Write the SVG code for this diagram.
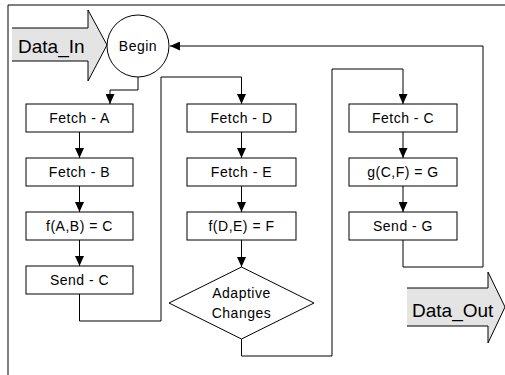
<svg xmlns="http://www.w3.org/2000/svg" width="505" height="375" viewBox="0 0 505 375">
<style>
.box{fill:#fff;stroke:#000;stroke-width:1}
.lbl{font-family:"Liberation Sans",Arial,sans-serif;font-size:14px;letter-spacing:0.5px;fill:#000;text-anchor:middle}
.big{font-family:"Liberation Sans",Arial,sans-serif;font-size:19px;fill:#000}
.conn{fill:none;stroke:#000;stroke-width:1}
.bigarrow{fill:#e4e4e4;stroke:none}
.outline{fill:none;stroke:#000;stroke-width:1}
</style>
<defs>
<marker id="ah" markerUnits="userSpaceOnUse" markerWidth="10" markerHeight="9" refX="10" refY="4.5" orient="auto">
<path d="M0,0 L10,4.5 L0,9 z" fill="#000"/>
</marker>
</defs>
<rect width="505" height="375" fill="#fff"/>
<g id="frame">
<path class="conn" d="M8,375 V5 H505"/>
</g>
<g id="data_in">
<polygon class="bigarrow" points="12,28 88,28 88,10 107,45 88,81 88,61 12,61"/>
<polyline class="outline" points="12,28 88,28 88,10 107,45 88,81 88,61 12,61"/>
<text class="big" x="18" y="53">Data_In</text>
</g>
<g id="data_out">
<polygon class="bigarrow" points="407,288 488,288 488,272 505,307 488,343 488,326 407,326"/>
<polyline class="outline" points="407,288 488,288 488,272 505,307 488,343 488,326 407,326"/>
<text class="big" x="412" y="317">Data_Out</text>
</g>
<g id="connectors">
<path class="conn" marker-end="url(#ah)" d="M138,77 V90 H110 V104"/>
<path class="conn" marker-end="url(#ah)" d="M79.5,132 V158"/>
<path class="conn" marker-end="url(#ah)" d="M79.5,186 V212"/>
<path class="conn" marker-end="url(#ah)" d="M79.5,240 V266"/>
<path class="conn" marker-end="url(#ah)" d="M79.5,294 V321 H161 V77 H241.5 V104"/>
<path class="conn" marker-end="url(#ah)" d="M241.5,132 V158"/>
<path class="conn" marker-end="url(#ah)" d="M241.5,186 V212"/>
<path class="conn" marker-end="url(#ah)" d="M241.5,240 V267"/>
<path class="conn" marker-end="url(#ah)" d="M241.5,339 V356 H332 V69 H403 V104"/>
<path class="conn" marker-end="url(#ah)" d="M403,132 V158"/>
<path class="conn" marker-end="url(#ah)" d="M403,186 V212"/>
<path class="conn" marker-end="url(#ah)" d="M403,240 V267 H483 V46 H170"/>
</g>
<g id="begin">
<circle class="box" cx="138" cy="46" r="31"/>
<text class="lbl" x="138" y="51">Begin</text>
</g>
<g id="fetch_a"><rect class="box" x="26" y="104" width="107" height="28"/><text class="lbl" x="79.5" y="123">Fetch - A</text></g>
<g id="fetch_b"><rect class="box" x="26" y="158" width="107" height="28"/><text class="lbl" x="79.5" y="177">Fetch - B</text></g>
<g id="f_ab"><rect class="box" x="26" y="212" width="107" height="28"/><text class="lbl" x="79.5" y="231">f(A,B) = C</text></g>
<g id="send_c"><rect class="box" x="26" y="266" width="107" height="28"/><text class="lbl" x="79.5" y="285">Send - C</text></g>
<g id="fetch_d"><rect class="box" x="187" y="104" width="109" height="28"/><text class="lbl" x="241.5" y="123">Fetch - D</text></g>
<g id="fetch_e"><rect class="box" x="187" y="158" width="109" height="28"/><text class="lbl" x="241.5" y="177">Fetch - E</text></g>
<g id="f_de"><rect class="box" x="187" y="212" width="109" height="28"/><text class="lbl" x="241.5" y="231">f(D,E) = F</text></g>
<g id="adaptive">
<polygon class="box" points="241.5,267 314,303 241.5,339 169,303"/>
<text class="lbl" x="241.5" y="298">Adaptive</text>
<text class="lbl" x="241.5" y="318">Changes</text>
</g>
<g id="fetch_c"><rect class="box" x="349" y="104" width="108" height="28"/><text class="lbl" x="403" y="123">Fetch - C</text></g>
<g id="g_cf"><rect class="box" x="349" y="158" width="108" height="28"/><text class="lbl" x="403" y="177">g(C,F) = G</text></g>
<g id="send_g"><rect class="box" x="349" y="212" width="108" height="28"/><text class="lbl" x="403" y="231">Send - G</text></g>
</svg>
